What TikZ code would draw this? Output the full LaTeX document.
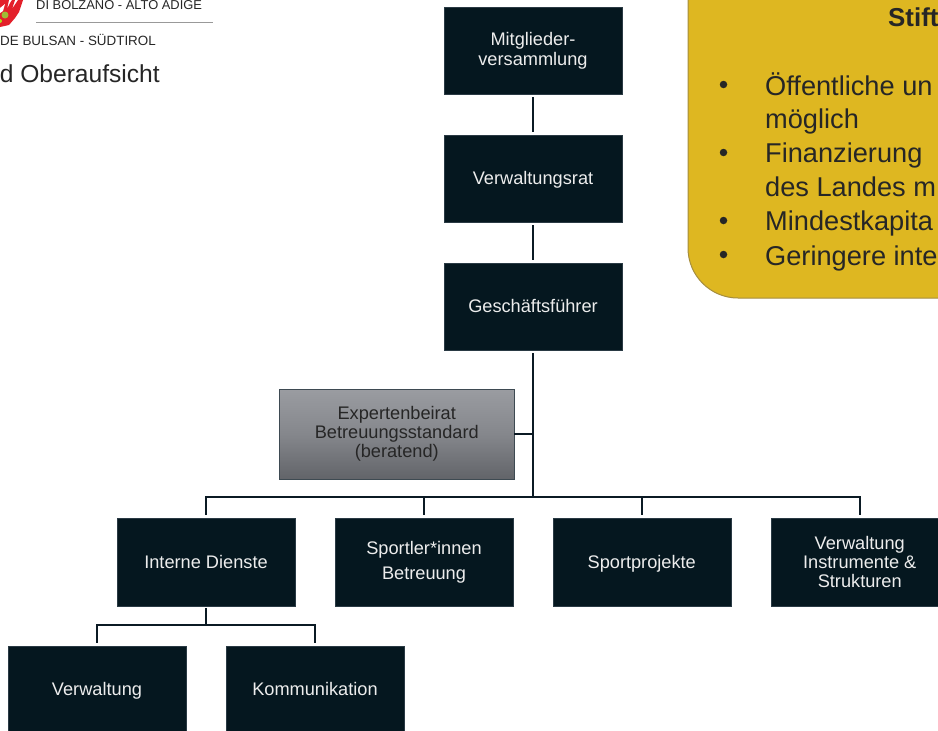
\documentclass[tikz,border=0pt]{standalone}
\usepackage{fontspec}
\setmainfont{Liberation Sans}
\definecolor{boxfill}{HTML}{05171F}
\definecolor{boxtext}{HTML}{EDEDED}
\definecolor{boxedge}{HTML}{2A3A44}
\definecolor{linecol}{HTML}{0B1A24}
\definecolor{yellowfill}{HTML}{DEB721}
\definecolor{yellowedge}{HTML}{A58D3E}
\definecolor{inktext}{HTML}{262626}
\definecolor{logored}{HTML}{E3202A}
\definecolor{greytop}{HTML}{9A9CA1}
\definecolor{greymid}{HTML}{85878C}
\definecolor{greybot}{HTML}{626469}
\definecolor{greyedge}{HTML}{3E4A52}
\tikzset{
  orgbox/.style={fill=boxfill,draw=boxedge,line width=0.4pt,text=boxtext,minimum width=178pt,minimum height=87.5pt,inner sep=0pt,align=center,font=\fontsize{18.2}{20}\selectfont},
  oneline/.style={orgbox,text height=17pt,text depth=4.4pt},
  greybox/.style={top color=greytop,bottom color=greybot,middle color=greymid,draw=greyedge,line width=0.8pt,text=inktext,minimum width=234.5pt,minimum height=90pt,inner sep=0pt,align=center,font=\fontsize{18.2}{19}\selectfont},
  conn/.style={draw=linecol,line width=2pt},
  headtext/.style={anchor=base west,inner sep=0pt,text=inktext},
  ylw/.style={anchor=base west,inner sep=0pt,text=inktext,font=\fontsize{27.2}{30}\selectfont},
  ybullet/.style={fill=inktext,circle,inner sep=0pt,minimum size=7.5pt},
}
\begin{document}
\begin{tikzpicture}[x=1pt,y=-1pt]
\useasboundingbox (0,0) rectangle (938,731);
\clip (0,0) rectangle (938,731);

% logo fragment
\fill[white] (-6,3) circle (30);
\draw[black!35,line width=0.8pt] (24,-5) arc[start angle=-10,end angle=-100,radius=30];
\fill[logored] (0,0) -- (9,0) -- (7,9) -- (10,3) -- (12,0) -- (15,0) -- (12,9) -- (18,0) -- (23,0) -- (19,12) -- (15,18) -- (9,25) -- (0,27) -- cycle;
\fill[yellow!70!green!80!black] (5,15) circle (3.5);
\fill[yellow!70!green] (0,21) circle (2);
\fill[white] (0,8) -- (5,4) -- (3,11) -- (0,13) -- cycle;

% header
\node[headtext,font=\fontsize{12.9}{15}\selectfont] (kopfa) at (36,9.5) {DI BOLZANO - ALTO ADIGE};
\coordinate (rulea) at (36,22);
\coordinate (ruleb) at (213,22);
\draw[black!40,line width=0.8pt] (rulea) -- (ruleb);
\node[headtext,font=\fontsize{13.4}{15}\selectfont,anchor=base east] (kopfb) at (156,45) {DE BULSAN - SÜDTIROL};
\node[headtext,font=\fontsize{24.6}{28}\selectfont,anchor=base east] (kopfc) at (160,82) {d Oberaufsicht};

% yellow panel
\path[fill=yellowfill,draw=yellowedge,line width=1pt,rounded corners=50pt] (688,-80) rectangle (1050,298);
\node[ylw,font=\fontsize{25.9}{30}\bfseries\selectfont] (titel) at (888,26.7) {Stift};
\node[ybullet] (ba) at (723.5,84.5) {};
\node[ylw] (za) at (765,95) {Öffentliche un};
\node[ylw] (zb) at (765,128.5) {möglich};
\node[ybullet] (bb) at (723.5,152.5) {};
\node[ylw] (zc) at (765,162.7) {Finanzierung};
\node[ylw] (zd) at (765,196.7) {des Landes m};
\node[ybullet] (bc) at (723.5,220.5) {};
\node[ylw] (ze) at (765,230.7) {Mindestkapita};
\node[ybullet] (bd) at (723.5,254.5) {};
\node[ylw] (zf) at (765,265) {Geringere inte};

% boxes
\node[orgbox] (mv) at (533,50.5) {Mitglieder-\\versammlung};
\node[oneline] (vr) at (533,178.5) {Verwaltungsrat};
\node[oneline] (gf) at (533,306.5) {Geschäftsführer};
\node[greybox] (eb) at (396.75,434) {Expertenbeirat\\Betreuungsstandard\\(beratend)};
\node[oneline] (id) at (206,562) {Interne Dienste};
\node[orgbox,font=\fontsize{18.2}{25}\selectfont] (sb) at (424,562) {Sportler*innen\\Betreuung};
\node[oneline] (sp) at (641.75,562) {Sportprojekte};
\node[orgbox,font=\fontsize{18.2}{19}\selectfont] (vi) at (859.75,562) {Verwaltung\\Instrumente \&\\Strukturen};
\node[oneline] (vw) at (97,689.5) {Verwaltung};
\node[oneline] (ko) at (315,689.5) {Kommunikation};

% connectors
\coordinate (bus) at (533,497);
\coordinate (busb) at (206,625);
\draw[conn,shorten <=3pt,shorten >=3pt] (mv) -- (vr);
\draw[conn,shorten <=3pt,shorten >=3pt] (vr) -- (gf);
\draw[conn,shorten <=3pt] (gf) -- (bus);
\draw[conn] (eb.east) -- (eb.east -| bus);
\draw[conn,shorten >=3pt,line join=miter] (bus) -| (id);
\draw[conn,shorten >=3pt] (sb |- bus) -- (sb);
\draw[conn,shorten >=3pt] (sp |- bus) -- (sp);
\draw[conn,shorten >=3pt,line join=miter] (bus) -| (vi);
\draw[conn,shorten <=2.5pt] (id) -- (busb);
\draw[conn,shorten >=3pt,line join=miter] (busb) -| (vw);
\draw[conn,shorten >=3pt,line join=miter] (busb) -| (ko);
\end{tikzpicture}
\end{document}
